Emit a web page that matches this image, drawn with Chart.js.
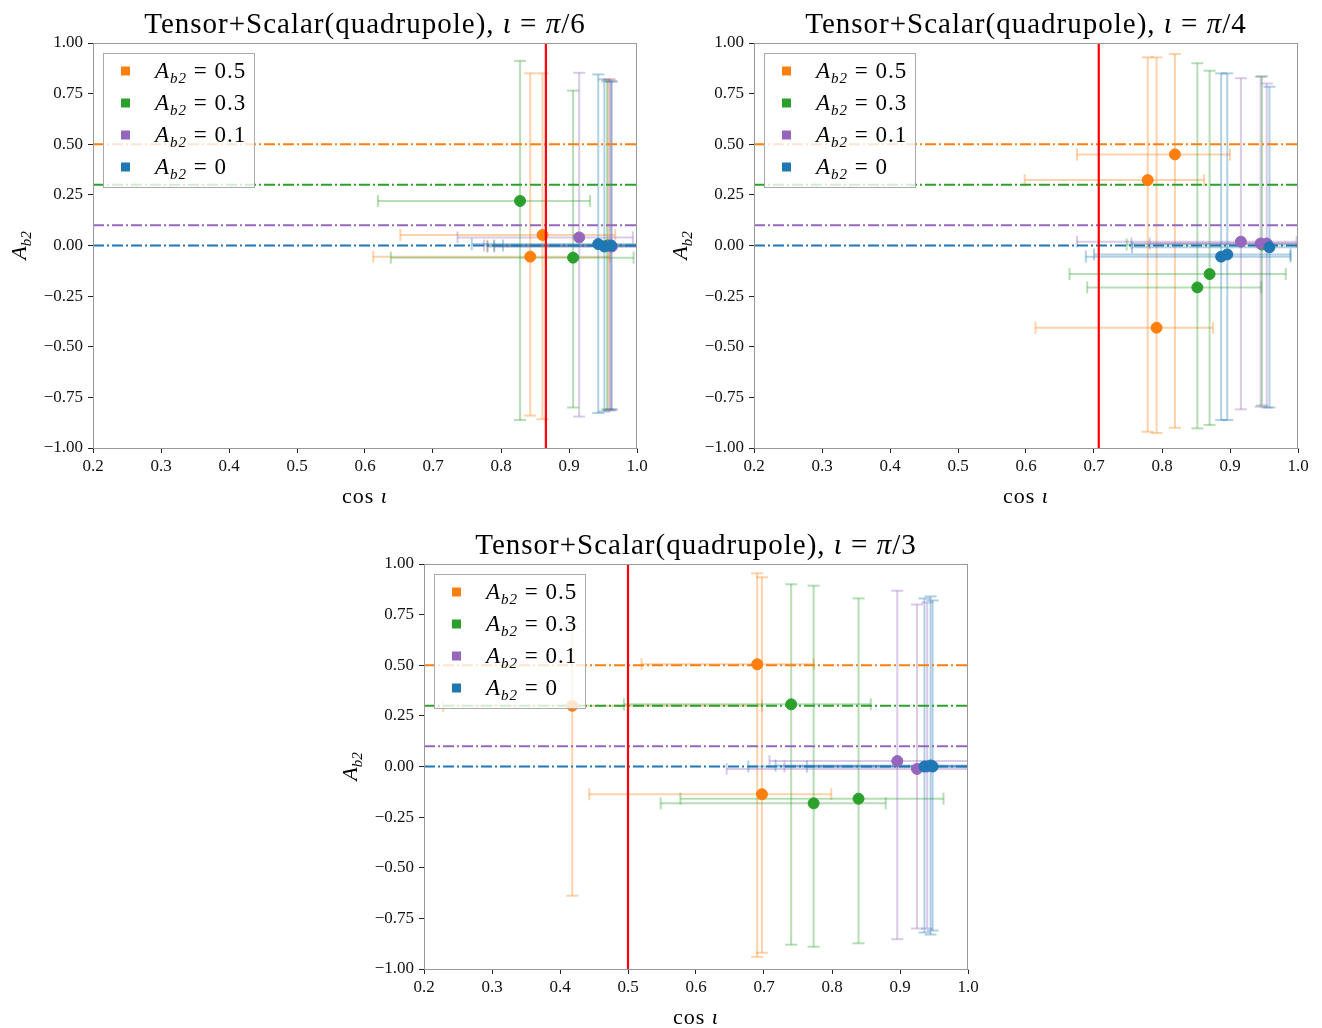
<!DOCTYPE html>
<html>
<head>
<meta charset="utf-8">
<script src="https://cdn.jsdelivr.net/npm/chart.js@4.4.0/dist/chart.umd.min.js"></script>
<style>
  body { margin: 0; background: #fff; width: 1322px; height: 1028px; overflow: hidden; position: relative; }
  canvas { position: absolute; }
</style>
</head>
<body>
<canvas id="c1" width="660" height="510" style="left:0;top:0"></canvas>
<canvas id="c2" width="660" height="510" style="left:661px;top:0"></canvas>
<canvas id="c3" width="660" height="507" style="left:331px;top:521px"></canvas>
<script>
// injected values and their colours (legend order)
const seriesLabels = ['0.5', '0.3', '0.1', '0'];
const injectedAb2 = [0.5, 0.3, 0.1, 0];
const seriesColors = ['#ff7f0e', '#2ca02c', '#9467bd', '#1f77b4'];

const xTicks = [0.2, 0.3, 0.4, 0.5, 0.6, 0.7, 0.8, 0.9, 1.0];
const yTicks = [-1, -0.75, -0.5, -0.25, 0, 0.25, 0.5, 0.75, 1];

const iotaLabels = ['π/6', 'π/4', 'π/3'];
const trueCosIota = [0.866, 0.707, 0.5];

// each point: [cos i, Ab2, cos i low, cos i high, Ab2 low, Ab2 high]
const p1Orange = [[0.861, 0.052, 0.652, 0.968, -0.858, 0.85], [0.843, -0.055, 0.612, 0.96, -0.84, 0.85], [0.958, 0.0, 0.78, 1.0, -0.81, 0.82]];
const p1Green = [[0.828, 0.22, 0.619, 0.931, -0.862, 0.912], [0.906, -0.06, 0.638, 0.995, -0.80, 0.765], [0.956, 0.0, 0.79, 1.0, -0.81, 0.81]];
const p1Purple = [[0.915, 0.04, 0.736, 0.994, -0.845, 0.853], [0.96, 0.0, 0.775, 1.0, -0.815, 0.82], [0.963, -0.005, 0.79, 1.0, -0.81, 0.81]];
const p1Blue = [[0.943, 0.007, 0.757, 1.0, -0.827, 0.845], [0.952, -0.005, 0.78, 1.0, -0.82, 0.82], [0.962, 0.0, 0.803, 1.0, -0.81, 0.81]];

const p2Orange = [[0.819, 0.45, 0.675, 0.900, -0.90, 0.946], [0.779, 0.323, 0.598, 0.862, -0.92, 0.929], [0.792, -0.406, 0.614, 0.875, -0.926, 0.929]];
const p2Green = [[0.870, -0.141, 0.664, 0.982, -0.886, 0.863], [0.852, -0.207, 0.690, 0.946, -0.903, 0.90], [0.947, 0.005, 0.748, 1.0, -0.79, 0.835]];
const p2Purple = [[0.916, 0.019, 0.675, 0.998, -0.809, 0.826], [0.945, 0.01, 0.782, 1.0, -0.796, 0.834], [0.954, 0.01, 0.755, 1.0, -0.80, 0.80]];
const p2Blue = [[0.887, -0.055, 0.688, 0.989, -0.862, 0.85], [0.896, -0.044, 0.700, 0.989, -0.862, 0.85], [0.958, -0.009, 0.756, 1.0, -0.80, 0.784]];

const p3Orange = [[0.690, 0.505, 0.52, 0.773, -0.94, 0.954], [0.697, -0.137, 0.443, 0.799, -0.92, 0.934], [0.418, 0.30, 0.228, 0.697, -0.638, 0.69]];
const p3Green = [[0.740, 0.307, 0.494, 0.857, -0.88, 0.90], [0.773, -0.182, 0.548, 0.879, -0.89, 0.893], [0.839, -0.159, 0.577, 0.964, -0.873, 0.83]];
const p3Purple = [[0.896, 0.027, 0.708, 1.0, -0.853, 0.868], [0.925, -0.012, 0.645, 1.0, -0.80, 0.80], [0.940, 0.0, 0.73, 1.0, -0.80, 0.81]];
const p3Blue = [[0.936, 0.0, 0.677, 1.0, -0.82, 0.83], [0.945, 0.005, 0.717, 1.0, -0.83, 0.84], [0.948, 0.0, 0.763, 1.0, -0.81, 0.82]];

const SERIF = '"Liberation Serif", "DejaVu Serif", serif';
const CAP = 6;

function rgba(hex, a) {
  const n = parseInt(hex.slice(1), 16);
  return `rgba(${n >> 16},${(n >> 8) & 255},${n & 255},${a})`;
}

// runs: [text, size, italic, dy]; spacing = extra px between letters
function drawRuns(ctx, runs, x, y, align, spacing) {
  ctx.letterSpacing = (spacing || 0) + 'px';
  let total = 0;
  runs.forEach(r => {
    ctx.font = `${r[2] ? 'italic ' : ''}${r[1]}px ${SERIF}`;
    total += ctx.measureText(r[0]).width;
  });
  let cx = align === 'center' ? x - total / 2 : x;
  ctx.textAlign = 'left';
  ctx.textBaseline = 'alphabetic';
  runs.forEach(r => {
    ctx.font = `${r[2] ? 'italic ' : ''}${r[1]}px ${SERIF}`;
    ctx.fillText(r[0], cx, y + r[3]);
    cx += ctx.measureText(r[0]).width;
  });
  ctx.letterSpacing = '0px';
}

const errorBars = {
  id: 'errorBars',
  beforeDatasetsDraw(chart) {
    const { ctx, chartArea: a, scales: { x, y } } = chart;
    ctx.save();
    ctx.beginPath();
    ctx.rect(a.left, a.top, a.width, a.height);
    ctx.clip();
    ctx.lineWidth = 2;
    chart.data.datasets.forEach(ds => {
      if (!ds.errors) return;
      ctx.strokeStyle = rgba(ds.backgroundColor, 0.35);
      ds.errors.forEach(p => {
        const px = x.getPixelForValue(p[0]), py = y.getPixelForValue(p[1]);
        const x0 = x.getPixelForValue(p[2]), x1 = x.getPixelForValue(p[3]);
        const y0 = y.getPixelForValue(p[4]), y1 = y.getPixelForValue(p[5]);
        const segs = [
          [x0, py, x1, py], [x0, py - CAP, x0, py + CAP], [x1, py - CAP, x1, py + CAP],
          [px, y0, px, y1], [px - CAP, y0, px + CAP, y0], [px - CAP, y1, px + CAP, y1]
        ];
        segs.forEach(s => {
          ctx.beginPath();
          ctx.moveTo(s[0], s[1]);
          ctx.lineTo(s[2], s[3]);
          ctx.stroke();
        });
      });
    });
    ctx.restore();
  }
};

const decorations = {
  id: 'decorations',
  afterDraw(chart, args, opts) {
    const { ctx, chartArea: a } = chart;
    const mid = (a.left + a.right) / 2;
    ctx.save();
    // frame
    ctx.strokeStyle = '#999';
    ctx.lineWidth = 1;
    ctx.strokeRect(a.left + 0.5, a.top + 0.5, a.width - 1, a.height);
    ctx.fillStyle = '#000';
    // title
    drawRuns(ctx, [['Tensor+Scalar(quadrupole), ', 29, false, 0], ['ι', 29, true, 0], [' = ', 29, false, 0],
      [opts.iota.slice(0, 1), 29, true, 0], [opts.iota.slice(1), 29, false, 0]], mid, a.top - 10, 'center', 1);
    // x title
    drawRuns(ctx, [['cos ', 22, false, 0], ['ι', 22, true, 0]], mid, a.bottom + 55, 'center', 1);
    // y title
    ctx.save();
    ctx.translate(a.left - 67, (a.top + a.bottom) / 2);
    ctx.rotate(-Math.PI / 2);
    drawRuns(ctx, [['A', 22, true, 0], ['b2', 15, true, 5]], 0, 0, 'center', 0);
    ctx.restore();
    // legend
    const lx = a.left + 10, ly = a.top + 10;
    ctx.fillStyle = 'rgba(255,255,255,0.8)';
    ctx.fillRect(lx, ly, 151, 134);
    ctx.strokeStyle = '#aaa';
    ctx.strokeRect(lx + 0.5, ly + 0.5, 151, 134);
    seriesLabels.forEach((lab, i) => {
      const cy = ly + 18 + i * 32;
      ctx.fillStyle = seriesColors[i];
      ctx.fillRect(lx + 18, cy - 4.5, 9, 9);
      ctx.fillStyle = '#000';
      drawRuns(ctx, [['A', 23, true, 0], ['b2', 15, true, 5], [' = ' + lab, 23, false, 0]], lx + 52, cy + 7, 'left', 1);
    });
    ctx.restore();
  }
};

function makePanel(id, groups, cosTrue, iota) {
  const datasets = [];
  groups.forEach((pts, i) => {
    datasets.push({
      type: 'scatter',
      data: pts.map(p => ({ x: p[0], y: p[1] })),
      errors: pts,
      backgroundColor: seriesColors[i],
      borderColor: seriesColors[i],
      pointRadius: 5.5,
      pointHoverRadius: 5.5,
      order: 4 - i
    });
  });
  injectedAb2.forEach((v, i) => {
    datasets.push({
      type: 'line',
      data: [{ x: 0.2, y: v }, { x: 1.0, y: v }],
      borderColor: seriesColors[i],
      borderWidth: 2,
      borderDash: [11, 3, 2, 3],
      pointRadius: 0,
      order: 5
    });
  });
  datasets.push({
    type: 'line',
    data: [{ x: cosTrue, y: -1 }, { x: cosTrue, y: 1 }],
    borderColor: '#ff0000',
    borderWidth: 2.2,
    pointRadius: 0,
    order: 0
  });

  const tickFont = { family: SERIF, size: 17 };
  new Chart(id, {
    data: { datasets },
    plugins: [errorBars, decorations],
    options: {
      responsive: false,
      animation: false,
      layout: { padding: { top: 43, right: 23, left: 0, bottom: 0 } },
      plugins: {
        legend: { display: false },
        tooltip: { enabled: false },
        decorations: { iota }
      },
      scales: {
        x: {
          type: 'linear', min: 0.2, max: 1.0,
          afterBuildTicks: s => { s.ticks = xTicks.map(v => ({ value: v })); },
          afterFit: s => { s.height = id === 'c3' ? 59 : 62; },
          ticks: { font: tickFont, color: '#111', padding: 3, callback: v => v.toFixed(1) },
          grid: { drawOnChartArea: false, drawTicks: true, tickLength: 5, tickColor: '#222' },
          border: { display: true, color: '#999' }
        },
        y: {
          type: 'linear', min: -1, max: 1,
          afterBuildTicks: s => { s.ticks = yTicks.map(v => ({ value: v })); },
          afterFit: s => { s.width = 93; },
          ticks: { font: tickFont, color: '#111', padding: 5, callback: v => v.toFixed(2).replace('-', '−') },
          grid: { drawOnChartArea: false, drawTicks: true, tickLength: 5, tickColor: '#222' },
          border: { display: true, color: '#999' }
        }
      }
    }
  });
}

makePanel('c1', [p1Orange, p1Green, p1Purple, p1Blue], trueCosIota[0], iotaLabels[0]);
makePanel('c2', [p2Orange, p2Green, p2Purple, p2Blue], trueCosIota[1], iotaLabels[1]);
makePanel('c3', [p3Orange, p3Green, p3Purple, p3Blue], trueCosIota[2], iotaLabels[2]);
</script>
</body>
</html>
